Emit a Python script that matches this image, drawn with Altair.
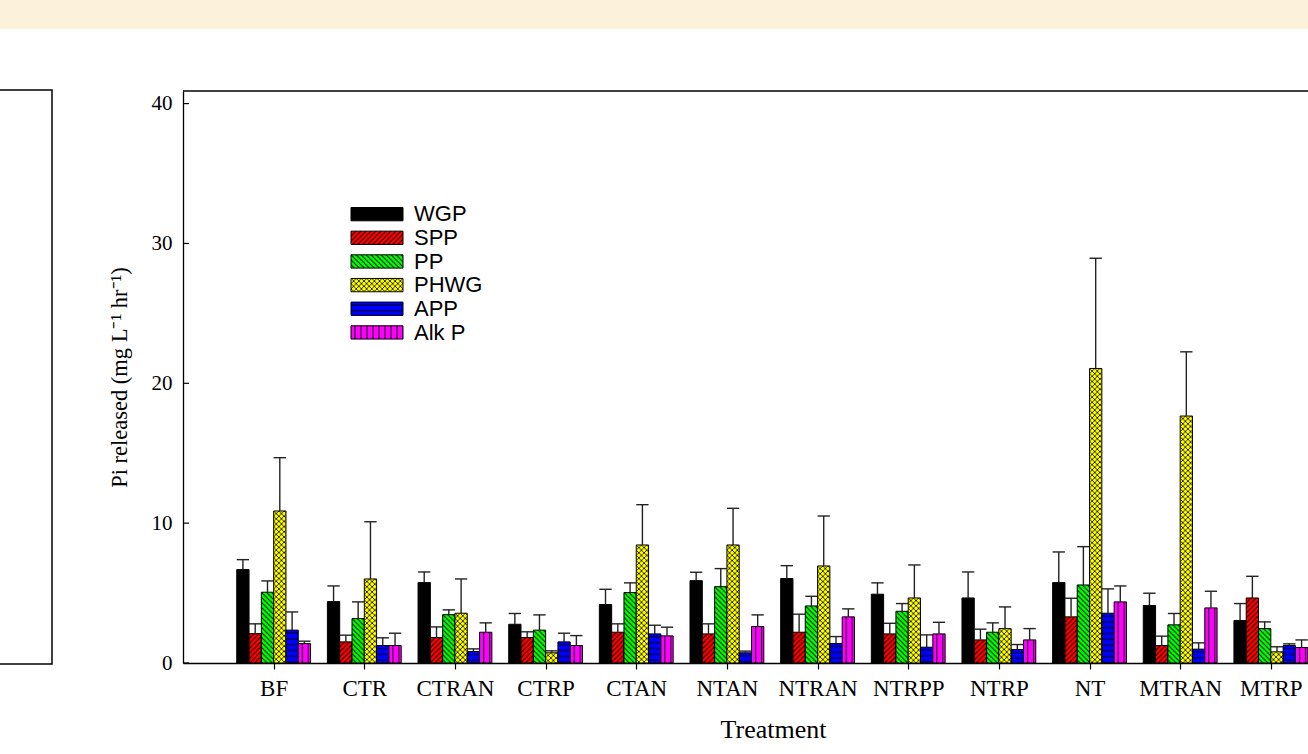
import base64
import altair as alt
import pandas as pd

# ---------------- data ----------------
treatments = ["BF", "CTR", "CTRAN", "CTRP", "CTAN", "NTAN", "NTRAN",
              "NTRPP", "NTRP", "NT", "MTRAN", "MTRP"]
series = ["WGP", "SPP", "PP", "PHWG", "APP", "Alk P"]

wgp = [6.68, 4.39, 5.75, 2.77, 4.18, 5.89, 6.04, 4.92, 4.65, 5.75, 4.11, 3.04]
spp = [2.10, 1.51, 1.82, 1.82, 2.20, 2.08, 2.20, 2.08, 1.65, 3.30, 1.25, 4.65]
pp = [5.06, 3.18, 3.46, 2.35, 5.04, 5.46, 4.08, 3.70, 2.20, 5.58, 2.73, 2.46]
phwg = [10.87, 6.01, 3.56, 0.73, 8.44, 8.44, 6.94, 4.65, 2.46, 21.06, 17.66, 0.80]
app = [2.35, 1.25, 0.82, 1.51, 2.08, 0.73, 1.39, 1.13, 0.96, 3.56, 0.99, 1.25]
alkp = [1.39, 1.25, 2.20, 1.25, 1.94, 2.61, 3.30, 2.08, 1.65, 4.37, 3.94, 1.11]

wgp_err = [0.71, 1.12, 0.76, 0.77, 1.09, 0.60, 0.92, 0.81, 1.86, 2.19, 0.88, 1.21]
spp_err = [0.70, 0.48, 0.76, 0.41, 0.60, 0.72, 1.29, 0.76, 0.77, 1.33, 0.67, 1.55]
pp_err = [0.81, 1.19, 0.34, 1.09, 0.69, 1.29, 0.69, 0.55, 0.67, 2.74, 0.81, 0.48]
phwg_err = [3.81, 4.09, 2.45, 0.14, 2.88, 2.62, 3.57, 2.36, 1.55, 7.88, 4.59, 0.36]
app_err = [1.30, 0.55, 0.19, 0.62, 0.62, 0.12, 0.50, 0.88, 0.36, 1.74, 0.45, 0.12]
alkp_err = [0.17, 0.88, 0.67, 0.71, 0.62, 0.83, 0.57, 0.83, 0.81, 1.14, 1.19, 0.54]

y_ticks = [0, 10, 20, 30, 40]

# ---------------- styles ----------------
colors = ["#000000", "#ff0000", "#00ff00", "#ffff00", "#0000ff", "#ff00ff"]


def pattern_uri(w, h, body):
    svg = ('<svg xmlns="http://www.w3.org/2000/svg" width="100%" height="100%">'
           '<defs><pattern id="p" patternUnits="userSpaceOnUse" x="0" y="0" '
           f'width="{w}" height="{h}">{body}</pattern></defs>'
           '<rect x="0" y="0" width="100%" height="100%" fill="url(#p)"/></svg>')
    return "data:image/svg+xml;base64," + base64.b64encode(svg.encode()).decode()


patterns = {
    "WGP": None,
    "SPP": pattern_uri(5, 5, '<path d="M0,5 L5,0 M-1,1 L1,-1 M4,6 L6,4" '
                             'stroke="black" stroke-width="1"/>'),
    "PP": pattern_uri(5, 5, '<path d="M0,0 L5,5 M4,-1 L6,1 M-1,4 L1,6" '
                            'stroke="black" stroke-width="1"/>'),
    "PHWG": pattern_uri(5.2, 5.2, '<path d="M0,0 L5.2,5.2 M0,5.2 L5.2,0" '
                                  'stroke="black" stroke-width="0.8"/>'),
    "APP": pattern_uri(10, 5.8, '<path d="M0,2.9 H10" stroke="black" '
                                'stroke-width="1"/>'),
    "Alk P": pattern_uri(6, 10, '<path d="M4,0 V10" stroke="black" '
                                'stroke-width="1"/>'),
}

means = [wgp, spp, pp, phwg, app, alkp]
errs = [wgp_err, spp_err, pp_err, phwg_err, app_err, alkp_err]

rows = []
for j, s in enumerate(series):
    for i, t in enumerate(treatments):
        rows.append({"treatment": t, "series": s, "i": i + 1, "j": j,
                     "value": means[j][i], "err": errs[j][i],
                     "url": patterns[s]})
df = pd.DataFrame(rows)

leg = pd.DataFrame({"series": series, "k": list(range(len(series))),
                    "url": [patterns[s] for s in series]})

W, H = 1125, 572
X_MAX = 12.41
Y_MAX = 40.9
BW = 0.1357  # bar width in x units

xs = alt.Scale(domain=[0, X_MAX], nice=False, zero=False)
ys = alt.Scale(domain=[0, Y_MAX], nice=False, zero=True)
cs = alt.Scale(domain=series, range=colors)

label_expr = "[" + ",".join(f"'{t}'" for t in treatments) + "][datum.value - 1]"

base = alt.Chart(df).transform_calculate(
    x0=f"datum.i + (datum.j - 3) * {BW}",
    x1=f"datum.i + (datum.j - 2) * {BW}",
    xc=f"datum.i + (datum.j - 2.5) * {BW}",
    top="datum.value + datum.err",
)

bars = base.mark_rect(stroke="black", strokeWidth=1).encode(
    x=alt.X("x0:Q", scale=xs,
            axis=alt.Axis(values=list(range(1, len(treatments) + 1)),
                          labelExpr=label_expr, title="Treatment",
                          tickSize=6, tickColor="black", tickWidth=1.2,
                          domainColor="black", domainWidth=1.3,
                          labelFont="Liberation Serif", labelFontSize=23,
                          labelColor="black", labelPadding=8,
                          titleFont="Liberation Serif", titleFontSize=26,
                          titleFontWeight="normal", titleColor="black",
                          titleX=590, titleAlign="center",
                          titlePadding=16, grid=False)),
    x2="x1:Q",
    y=alt.Y("value:Q", scale=ys,
            axis=alt.Axis(values=y_ticks, ticks=False, tickSize=0,
                          title="Pi released (mg L\u207b\u00b9 hr\u207b\u00b9)",
                          domainColor="black", domainWidth=1.3,
                          labelFont="Liberation Serif", labelFontSize=21,
                          labelColor="black", labelPadding=11,
                          titleFont="Liberation Serif", titleFontSize=22.5,
                          titleFontWeight="normal", titleColor="black",
                          titlePadding=20, grid=False)),
    y2=alt.Y2(datum=0),
    fill=alt.Fill("series:N", scale=cs, legend=None),
)

hatch = base.transform_filter("datum.url != null").mark_image(aspect=False).encode(
    x=alt.X("x0:Q", scale=xs), x2="x1:Q",
    y=alt.Y("value:Q", scale=ys), y2=alt.Y2(datum=0),
    url="url:N",
)

stems = base.mark_rule(color="#222222", strokeWidth=1.4).encode(
    x=alt.X("xc:Q", scale=xs),
    y=alt.Y("value:Q", scale=ys), y2="top:Q",
)
caps = base.mark_rule(color="#222222", strokeWidth=1.4).encode(
    x=alt.X("x0:Q", scale=xs), x2="x1:Q",
    y=alt.Y("top:Q", scale=ys),
)

yt = alt.Chart(pd.DataFrame({"t": y_ticks})).mark_rule(
    color="black", strokeWidth=1.2).encode(
    y=alt.Y("t:Q", scale=ys), x=alt.value(0), x2=alt.value(6))

top_border = alt.Chart(pd.DataFrame({"a": [0]})).mark_rule(
    color="black", strokeWidth=1.3).encode(
    x=alt.value(0), x2=alt.value(W), y=alt.value(0))

lbase = alt.Chart(leg).transform_calculate(
    ly="116.5 + datum.k * 23.65",
    ly2="129.8 + datum.k * 23.65",
    lm="123.4 + datum.k * 23.65",
)
leg_rect = lbase.mark_rect(stroke="black", strokeWidth=1).encode(
    x=alt.value(168), x2=alt.value(220),
    y=alt.Y("ly:Q", scale=None, axis=None), y2="ly2:Q",
    fill=alt.Fill("series:N", scale=cs, legend=None),
)
leg_img = lbase.transform_filter("datum.url != null").mark_image(aspect=False).encode(
    x=alt.value(168), x2=alt.value(220),
    y=alt.Y("ly:Q", scale=None, axis=None), y2="ly2:Q",
    url="url:N",
)
leg_text = lbase.mark_text(align="left", baseline="middle",
                           font="Liberation Sans", fontSize=22,
                           color="black").encode(
    x=alt.value(231),
    y=alt.Y("lm:Q", scale=None, axis=None),
    text="series:N",
)

strip = alt.Chart(pd.DataFrame({"a": [0]})).mark_rect(
    color="#fcf1da").encode(
    x=alt.value(-183), x2=alt.value(W), y=alt.value(-91), y2=alt.value(-62))
left_box = alt.Chart(pd.DataFrame({"a": [0]})).mark_rect(
    fill="white", fillOpacity=0, stroke="black", strokeWidth=1.5).encode(
    x=alt.value(-190), x2=alt.value(-131), y=alt.value(-1), y2=alt.value(573))

chart = alt.layer(
    strip, left_box, bars, hatch, stems, caps, yt, top_border,
    leg_rect, leg_img, leg_text,
).properties(
    width=W, height=H,
    autosize=alt.AutoSizeParams(type="none"),
    padding={"left": 183, "top": 91, "right": 0, "bottom": 91},
    background="white",
).configure_view(stroke=None)

chart.save("out.html", embed_options={"renderer": "svg", "actions": False})
